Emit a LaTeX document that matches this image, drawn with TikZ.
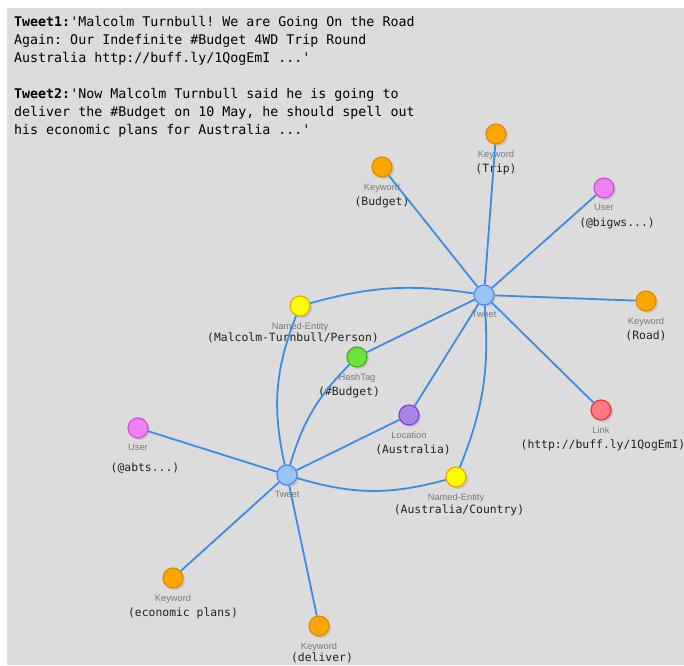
\documentclass[tikz,border=0pt]{standalone}
\usepackage{fontspec}
\setmainfont{Liberation Sans}
\setmonofont{DejaVu Sans Mono}
\usetikzlibrary{shadows}
\usepackage{xcolor}
\definecolor{bggray}{HTML}{DCDCDC}
\definecolor{edgeblue}{HTML}{3B8BE8}
\definecolor{tweetfill}{HTML}{99C4FA}
\definecolor{tweetline}{HTML}{4A8FE8}
\definecolor{kwfill}{HTML}{FFA500}
\definecolor{kwline}{HTML}{D98C00}
\definecolor{userfill}{HTML}{EE82EE}
\definecolor{userline}{HTML}{D94ED9}
\definecolor{linkfill}{HTML}{FF7B80}
\definecolor{linkline}{HTML}{E8323C}
\definecolor{nefill}{HTML}{FFFF00}
\definecolor{neline}{HTML}{F0A800}
\definecolor{hashfill}{HTML}{70E040}
\definecolor{hashline}{HTML}{44B022}
\definecolor{locfill}{HTML}{A985E6}
\definecolor{locline}{HTML}{7E3FE0}
\definecolor{typegray}{HTML}{7A7A7A}
\definecolor{valgray}{HTML}{222222}

\begin{document}
\begin{tikzpicture}[x=1pt,y=1pt]
			\tikzstyle{ent}=[draw,circle,minimum size=20pt,inner sep=0pt,line width=1.2pt,
			drop shadow={opacity=0.25,shadow xshift=2pt,shadow yshift=-2pt}]
			\tikzstyle{tweet}=[ent,fill=tweetfill,draw=tweetline]
			\tikzstyle{kw}=[ent,fill=kwfill,draw=kwline]
			\tikzstyle{user}=[ent,fill=userfill,draw=userline]
			\tikzstyle{link}=[ent,fill=linkfill,draw=linkline]
			\tikzstyle{named}=[ent,fill=nefill,draw=neline]
			\tikzstyle{hash}=[ent,fill=hashfill,draw=hashline]
			\tikzstyle{loc}=[ent,fill=locfill,draw=locline]
			\tikzstyle{typ}=[inner sep=0pt,yshift=-5.5pt,text=typegray,font=\fontsize{9.3}{10}\selectfont]
			\tikzstyle{val}=[inner sep=0pt,yshift=-19pt,text=valgray,font=\ttfamily\fontsize{11.4}{12}\selectfont]
			\tikzstyle{edge}=[draw=edgeblue,line width=1.8pt]
			\tikzstyle{tweettext}=[anchor=north west,inner sep=0pt,align=left,
			font=\ttfamily\fontsize{13.3}{18}\selectfont]
			\useasboundingbox (0,0) rectangle (684,665);
			\fill[bggray] (7,0) rectangle (684,657);
			\node[tweettext] (tw1) at (14,649) {\textbf{Tweet1:}'Malcolm Turnbull! We are Going On the Road\\
			Again: Our Indefinite \#Budget 4WD Trip Round\\
			Australia http://buff.ly/1QogEmI ...'};
			\node[tweettext] (tw2) at (14,577) {\textbf{Tweet2:}'Now Malcolm Turnbull said he is going to\\
			deliver the \#Budget on 10 May, he should spell out\\
			his economic plans for Australia ...'};
			\node[tweet,label={[typ]below:Tweet}] (t1) at (484,370) {};
			\node[tweet,label={[typ]below:Tweet}] (t2) at (287,190) {};
			\node[kw,label={[typ]below:Keyword},label={[val]below:(Trip)}] (trip) at (496,531) {};
			\node[kw,label={[typ]below:Keyword},label={[val]below:(Budget)}] (kbud) at (382,498) {};
			\node[user,label={[typ]below:User},label={[val,xshift=13pt]below:(@bigws...)}] (bigws) at (604,477) {};
			\node[kw,label={[typ]below:Keyword},label={[val]below:(Road)}] (road) at (646,364) {};
			\node[link,label={[typ]below:Link},label={[val,xshift=2pt]below:(http://buff.ly/1QogEmI)}] (link) at (601,255) {};
			\node[named,label={[typ]below:Named-Entity},label={[val,xshift=-7pt,yshift=3pt]below:(Malcolm-Turnbull/Person)}] (nep) at (300,359) {};
			\node[hash,label={[typ]below:HashTag},label={[val,xshift=-8pt]below:(\#Budget)}] (hash) at (357,308) {};
			\node[loc,label={[typ]below:Location},label={[val,xshift=4pt]below:(Australia)}] (loc) at (409,250) {};
			\node[named,label={[typ]below:Named-Entity},label={[val,xshift=3pt,yshift=2pt]below:(Australia/Country)}] (neac) at (456,188) {};
			\node[user,label={[typ]below:User},label={[val,xshift=7pt,yshift=-5pt]below:(@abts...)}] (abts) at (138,237) {};
			\node[kw,label={[typ]below:Keyword},label={[val,xshift=10pt]below:(economic plans)}] (econ) at (173,87) {};
			\node[kw,label={[typ]below:Keyword},label={[val,xshift=3pt,yshift=3pt]below:(deliver)}] (deliv) at (319,39) {};
			\draw[edge] (t1) -- (trip);
			\draw[edge] (t1) -- (kbud);
			\draw[edge] (t1) -- (bigws);
			\draw[edge] (t1) -- (road);
			\draw[edge] (t1) -- (link);
			\draw[edge] (t1) -- (hash);
			\draw[edge] (t1) -- (loc);
			\draw[edge] (nep) to[bend left=12] (t1);
			\draw[edge] (t1) to[bend left=13] (neac);
			\draw[edge] (t2) -- (abts);
			\draw[edge] (t2) -- (econ);
			\draw[edge] (t2) -- (deliv);
			\draw[edge] (t2) -- (loc);
			\draw[edge] (t2) to[bend left=17] (nep);
			\draw[edge] (t2) to[bend left=14] (hash);
			\draw[edge] (t2) to[bend right=16] (neac);
		\end{tikzpicture}
\end{document}
